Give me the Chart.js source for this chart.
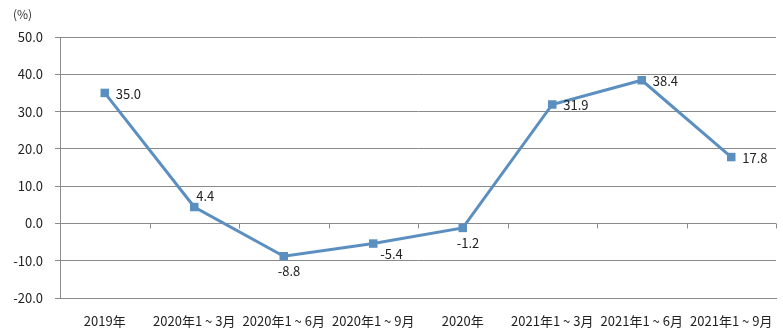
<!DOCTYPE html>
<html>
<head>
<meta charset="utf-8">
<script src="https://cdn.jsdelivr.net/npm/chart.js@4/dist/chart.umd.min.js"></script>
<style>
  html, body { margin: 0; padding: 0; background: #fff; }
  #wrap { width: 783px; height: 332px; }
</style>
</head>
<body>
<div id="wrap"><canvas id="chartGrowth"></canvas></div>
<script>
const categories = ['2019年', '2020年1 ~ 3月', '2020年1 ~ 6月', '2020年1 ~ 9月', '2020年', '2021年1 ~ 3月', '2021年1 ~ 6月', '2021年1 ~ 9月'];
const growthValues = [35.0, 4.4, -8.8, -5.4, -1.2, 31.9, 38.4, 17.8];
// where each value label sits relative to its point
const labelSide = ['right', 'above', 'below', 'belowRight', 'below', 'right', 'right', 'right'];
const yMin = -20;
const yMax = 50;
const yStep = 10;

const FONT = '"Noto Sans CJK SC", "Microsoft YaHei", sans-serif';
const LINE_COLOR = '#5b8fc0';

// ticks on the zero line between categories, value labels and the unit text
const extras = {
  id: 'extras',
  afterDatasetsDraw(chart) {
    const ctx = chart.ctx;
    const x = chart.scales.x;
    const y = chart.scales.y;
    const y0 = y.getPixelForValue(0);
    const n = categories.length;
    const step = (x.right - x.left) / n;

    ctx.save();
    ctx.strokeStyle = '#8a8a8a';
    ctx.lineWidth = 1;
    for (let i = 1; i <= n; i++) {
      const px = Math.round(x.left + i * step) + 0.5;
      ctx.beginPath();
      ctx.moveTo(px, y0);
      ctx.lineTo(px, y0 + 5);
      ctx.stroke();
    }

    ctx.font = '13px ' + FONT;
    ctx.fillStyle = '#222';
    ctx.textBaseline = 'middle';
    ctx.textAlign = 'left';
    const meta = chart.getDatasetMeta(0);
    meta.data.forEach(function(pt, i) {
      const txt = growthValues[i].toFixed(1);
      const side = labelSide[i];
      if (side === 'right') {
        ctx.fillText(txt, pt.x + 11, pt.y + 1);
      } else if (side === 'above') {
        ctx.fillText(txt, pt.x + 2, pt.y - 11);
      } else if (side === 'below') {
        ctx.fillText(txt, pt.x - 6, pt.y + 15);
      } else {
        ctx.fillText(txt, pt.x + 7, pt.y + 10);
      }
    });

    ctx.fillStyle = '#333';
    ctx.font = '12px ' + FONT;
    ctx.fillText('(%)', 13, 14);
    ctx.restore();
  }
};

new Chart(document.getElementById('chartGrowth'), {
  type: 'line',
  data: {
    labels: categories,
    datasets: [{
      data: growthValues,
      borderColor: LINE_COLOR,
      borderWidth: 3,
      backgroundColor: LINE_COLOR,
      pointStyle: 'rect',
      pointRadius: 6,
      pointHoverRadius: 6,
      pointBorderWidth: 0,
      tension: 0,
      fill: false
    }]
  },
  options: {
    responsive: true,
    maintainAspectRatio: false,
    animation: false,
    events: [],
    layout: { padding: { left: 0, right: 7, top: 37, bottom: 0 } },
    plugins: {
      legend: { display: false },
      tooltip: { enabled: false }
    },
    scales: {
      x: {
        offset: true,
        grid: { display: false },
        border: { display: true, color: '#8a8a8a', width: 1 },
        ticks: {
          color: '#222',
          font: { family: FONT, size: 13 },
          padding: 7,
          maxRotation: 0,
          autoSkip: false
        },
        afterFit(scale) { scale.height = 34; }
      },
      y: {
        min: yMin,
        max: yMax,
        grid: {
          color: '#8a8a8a',
          lineWidth: 1,
          tickLength: 5
        },
        border: { display: true, color: '#8a8a8a', width: 1 },
        ticks: {
          stepSize: yStep,
          color: '#222',
          font: { family: FONT, size: 13 },
          padding: 12,
          callback: function(v) { return Number(v).toFixed(1); }
        },
        afterFit(scale) { scale.width = 60; }
      }
    }
  },
  plugins: [extras]
});
</script>
</body>
</html>
